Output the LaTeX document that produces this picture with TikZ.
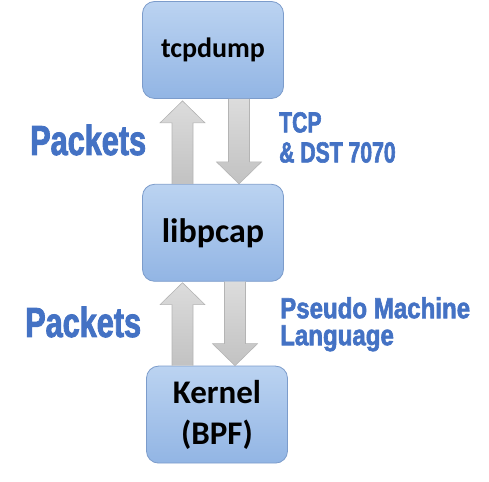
\documentclass[tikz,border=0pt]{standalone}
\usepackage{fontspec}
\setmainfont{Carlito}
\newfontfamily\labelfont[FakeStretch=0.73, FakeBold=2]{Liberation Sans}
\newfontfamily\widelabelfont[FakeStretch=0.83, FakeBold=2]{Liberation Sans}
\usetikzlibrary{
    positioning,
    calc,
}
\definecolor{boxtop}{HTML}{BBD3F1}
\definecolor{boxbottom}{HTML}{92B5E4}
\definecolor{boxline}{HTML}{7C9CCB}
\definecolor{arrowtop}{HTML}{DCDCDC}
\definecolor{arrowbottom}{HTML}{C2C2C2}
\definecolor{arrowline}{HTML}{B4B4B4}
\definecolor{labelblue}{HTML}{4472C4}
\tikzset{
    x=1pt, y=1pt,
    layer/.style={rectangle, rounded corners=12pt, draw=boxline, line width=0.8pt, top color=boxtop, bottom color=boxbottom, minimum width=141pt, minimum height=97pt, align=center},
    flowlabel/.style={text=labelblue, align=left, inner sep=0pt},
    blockarrow/.style={draw=arrowline, line width=0.6pt, top color=arrowtop, bottom color=arrowbottom,
        to path={let \p1=(\tikztostart), \p2=(\tikztotarget), \n1={ifthenelse(\y2>\y1,-22,22)} in
            (\x1-10.5,\y1) -- (\x1-10.5,\y2+\n1) -- (\x1-22.5,\y2+\n1) -- (\x1,\y2)
            -- (\x1+22.5,\y2+\n1) -- (\x1+10.5,\y2+\n1) -- (\x1+10.5,\y1)}},
}

\begin{document}
\begin{tikzpicture}
    \useasboundingbox (0,0) rectangle (489,481);

    \node[layer, font=\bfseries\fontsize{28}{30}\selectfont] (tcp) at (213,431) {tcpdump};
    \node[layer, below=85pt of tcp, font=\bfseries\fontsize{34}{36}\selectfont] (lib) {libpcap};
    \node[layer, below=84pt of lib, xshift=4pt, font=\bfseries\fontsize{33}{41}\selectfont] (kernel) {Kernel\\(BPF)};

    \node[flowlabel, anchor=base west, font=\labelfont\bfseries\fontsize{42}{44}\selectfont] (pktup) at (30,326) {Packets};
    \node[flowlabel, anchor=base west, font=\labelfont\bfseries\fontsize{42}{44}\selectfont] (pktdown) at (25,144) {Packets};
    \node[flowlabel, anchor=north west, font=\labelfont\bfseries\fontsize{29}{30}\selectfont] (filter) at (279,369) {TCP\\\& DST 7070};
    \node[flowlabel, anchor=north west, font=\widelabelfont\bfseries\fontsize{29}{27}\selectfont] (pml) at (280,184) {Pseudo Machine\\Language};

    % ===== ARROWS =====
    \draw[blockarrow] ([xshift=-30.5pt]lib.north) to ([yshift=-2pt]tcp.south);
    \draw[blockarrow] ([xshift=26pt]tcp.south) to (lib.north);
    \draw[blockarrow] ([xshift=-34.5pt]kernel.north) to ([yshift=-1pt]lib.south);
    \draw[blockarrow] ([xshift=22pt]lib.south) to (kernel.north);
\end{tikzpicture}
\end{document}
